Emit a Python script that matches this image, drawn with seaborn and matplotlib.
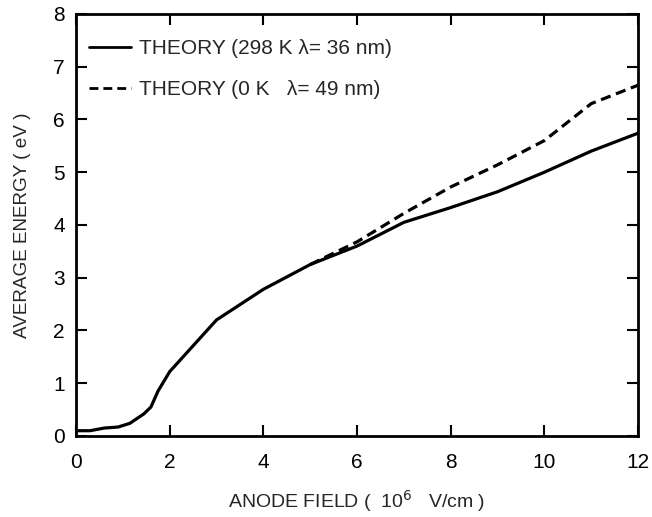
import numpy as np
import pandas as pd
import matplotlib
matplotlib.use("Agg")
import matplotlib.pyplot as plt
import seaborn as sns

# Data
field_298 = [0.0, 0.3, 0.6, 0.9, 1.15, 1.45, 1.6, 1.75, 2.0, 3.0, 4.0, 5.0, 6.0, 7.0, 8.0, 9.0, 10.0, 11.0, 12.0]
energy_298 = [0.10, 0.10, 0.15, 0.17, 0.24, 0.42, 0.55, 0.85, 1.22, 2.20, 2.78, 3.25, 3.60, 4.05, 4.33, 4.63, 5.00, 5.40, 5.74]
field_0 = [5.0, 6.0, 7.0, 8.0, 9.0, 10.0, 11.0, 12.0]
energy_0 = [3.25, 3.68, 4.22, 4.72, 5.14, 5.60, 6.30, 6.65]
label_298 = "THEORY (298 K λ= 36 nm)"
label_0 = "THEORY (0 K   λ= 49 nm)"
x_ticks = [0, 2, 4, 6, 8, 10, 12]
y_ticks = [0, 1, 2, 3, 4, 5, 6, 7, 8]

df = pd.concat([
    pd.DataFrame({"field": field_298, "energy": energy_298, "series": label_298}),
    pd.DataFrame({"field": field_0, "energy": energy_0, "series": label_0}),
])

sns.set_style("ticks")
plt.rcParams['font.family'] = ['Liberation Sans', 'DejaVu Sans']

fig = plt.figure(figsize=(6.52, 5.17), dpi=100)
ax = fig.add_axes([0.1166, 0.1567, 0.862, 0.8163])

sns.lineplot(data=df, x="field", y="energy", style="series",
             dashes={label_298: "", label_0: (3.2, 1.8)},
             color="black", linewidth=2.3, ax=ax, sort=False, estimator=None)

ax.set_xlim(0, 12)
ax.set_ylim(0, 8)
ax.set_xticks(x_ticks)
ax.set_yticks(y_ticks)
ax.tick_params(direction="in", length=8, width=1.5, labelsize=15, top=True, right=True,
               colors="black")
ax.tick_params(axis="x", pad=12)
ax.tick_params(axis="y", pad=8)
for s in ax.spines.values():
    s.set_linewidth(2)
    s.set_color("black")

ax.set_xlabel("ANODE FIELD (  10$^{6}$   V/cm )", fontsize=14, labelpad=12)
ax.set_ylabel("AVERAGE ENERGY ( eV )", fontsize=13.6, labelpad=16)

leg = ax.legend(loc="upper left", bbox_to_anchor=(-0.01, 0.985), frameon=False,
                fontsize=15, handlelength=2.0, labelspacing=1.05, handletextpad=0.4,
                borderaxespad=0.5)
for h in leg.get_lines():
    h.set_linewidth(2)

fig.savefig("out.png", dpi=100)
